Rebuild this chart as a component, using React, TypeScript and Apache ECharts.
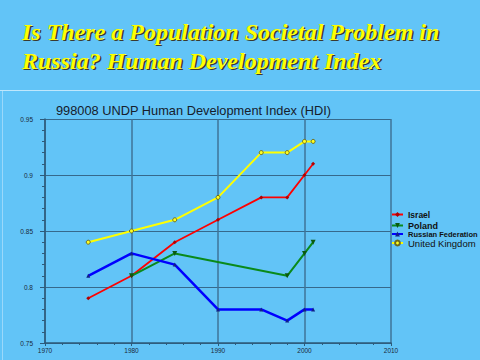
import React, { useEffect, useRef } from "react";
import * as echarts from "echarts";

const israel: [number, number][] = [
  [1975, 0.79], [1980, 0.81], [1985, 0.84], [1990, 0.86], [1995, 0.88], [1998, 0.88], [2000, 0.9], [2001, 0.91],
];
const poland: [number, number][] = [
  [1980, 0.81], [1985, 0.83], [1998, 0.81], [2000, 0.83], [2001, 0.84],
];
const russia: [number, number][] = [
  [1975, 0.81], [1980, 0.83], [1985, 0.82], [1990, 0.78], [1995, 0.78], [1998, 0.77], [2000, 0.78], [2001, 0.78],
];
const uk: [number, number][] = [
  [1975, 0.84], [1980, 0.85], [1985, 0.86], [1990, 0.88], [1995, 0.92], [1998, 0.92], [2000, 0.93], [2001, 0.93],
];

const headerLines = ["Is There a Population Societal Problem in", "Russia? Human Development Index"];
const chartTitle = "998008 UNDP Human Development Index (HDI)";

export default function App() {
  const ref = useRef<HTMLDivElement>(null);
  useEffect(() => {
    const chart = echarts.init(ref.current!, null, { renderer: "svg" });
    const axisColor = "#2d5a7a";
    const legendBase = (name: string, top: number, fontSize: number, fontWeight: string) => ({
      data: [name],
      left: 391,
      top,
      orient: "vertical",
      itemWidth: 11,
      itemHeight: 6,
      itemGap: 2,
      padding: 0,
      textStyle: { fontFamily: "Liberation Sans", fontSize, fontWeight, color: "#111" },
    });
    const headerFont = "italic bold 24px 'Liberation Serif'";
    chart.setOption({
      animation: false,
      backgroundColor: "#62c4f7",
      title: {
        text: chartTitle,
        left: 56,
        top: 104,
        padding: 0,
        textStyle: { fontFamily: "Liberation Sans", fontSize: 12.8, fontWeight: "normal", color: "#16202c" },
      },
      graphic: [
        {
          type: "text",
          left: 23.5,
          top: 18.5,
          style: { text: headerLines.join("\n"), font: headerFont, lineHeight: 29, fill: "#3a3a30" },
        },
        {
          type: "text",
          left: 22,
          top: 17,
          style: { text: headerLines.join("\n"), font: headerFont, lineHeight: 29, fill: "#ffff00" },
        },
        { type: "line", shape: { x1: 0, y1: 90.5, x2: 480, y2: 90.5 }, style: { stroke: "#bfe7fc", lineWidth: 1 } },
        { type: "line", shape: { x1: 2.5, y1: 91, x2: 2.5, y2: 360 }, style: { stroke: "#9ad8fa", lineWidth: 1 } },
      ],
      legend: [
        legendBase("Israel", 210, 8.5, "bold"),
        legendBase("Poland", 221, 9, "bold"),
        legendBase("Russian Federation", 230, 7.5, "bold"),
        legendBase("United Kingdom", 238, 9.5, "normal"),
      ],
      grid: { left: 45, right: 89, top: 119, bottom: 17 },
      xAxis: {
        type: "value",
        min: 1970,
        max: 2010,
        interval: 10,
        axisLine: { lineStyle: { color: axisColor, width: 1.5 } },
        axisTick: { length: 3, lineStyle: { color: axisColor } },
        minorTick: { show: true, splitNumber: 5, length: 2, lineStyle: { color: axisColor } },
        axisLabel: {
          fontFamily: "Liberation Sans",
          fontSize: 6.5,
          color: "#1a2a3a",
          margin: 4,
          formatter: (v: number) => String(v),
        },
        splitLine: { show: true, lineStyle: { color: "#3f7598", width: 1.5 } },
      },
      yAxis: {
        type: "value",
        min: 0.75,
        max: 0.95,
        interval: 0.05,
        axisLine: { show: true, lineStyle: { color: axisColor, width: 1.5 } },
        axisTick: { show: true, length: 5, lineStyle: { color: axisColor } },
        minorTick: { show: true, splitNumber: 5, length: 3, lineStyle: { color: axisColor } },
        axisLabel: { fontFamily: "Liberation Sans", fontSize: 6.5, color: "#1a2a3a", margin: 12 },
        splitLine: { show: true, lineStyle: { color: "#36698c", width: 1 } },
      },
      series: [
        {
          name: "Israel",
          type: "line",
          data: israel,
          lineStyle: { color: "#ff0000", width: 1.8 },
          itemStyle: { color: "#b00000" },
          symbol: "diamond",
          symbolSize: 4,
        },
        {
          name: "Poland",
          type: "line",
          data: poland,
          lineStyle: { color: "#0a8a1a", width: 2 },
          itemStyle: { color: "#0a5a10" },
          symbol: "triangle",
          symbolRotate: 180,
          symbolSize: 5,
        },
        {
          name: "Russian Federation",
          type: "line",
          data: russia,
          lineStyle: { color: "#0000ff", width: 2.5 },
          itemStyle: { color: "#10208a" },
          symbol: "triangle",
          symbolSize: 4,
        },
        {
          name: "United Kingdom",
          type: "line",
          data: uk,
          lineStyle: { color: "#ffff00", width: 2 },
          itemStyle: { color: "#ffff20", borderColor: "#6a6a20", borderWidth: 1 },
          symbol: "circle",
          symbolSize: 4,
        },
      ],
    });
    return () => chart.dispose();
  }, []);
  return (
    <div style={{ position: "fixed", left: 0, top: 0, width: 480, height: 360 }}>
      <div ref={ref} style={{ width: 480, height: 360 }} />
    </div>
  );
}
